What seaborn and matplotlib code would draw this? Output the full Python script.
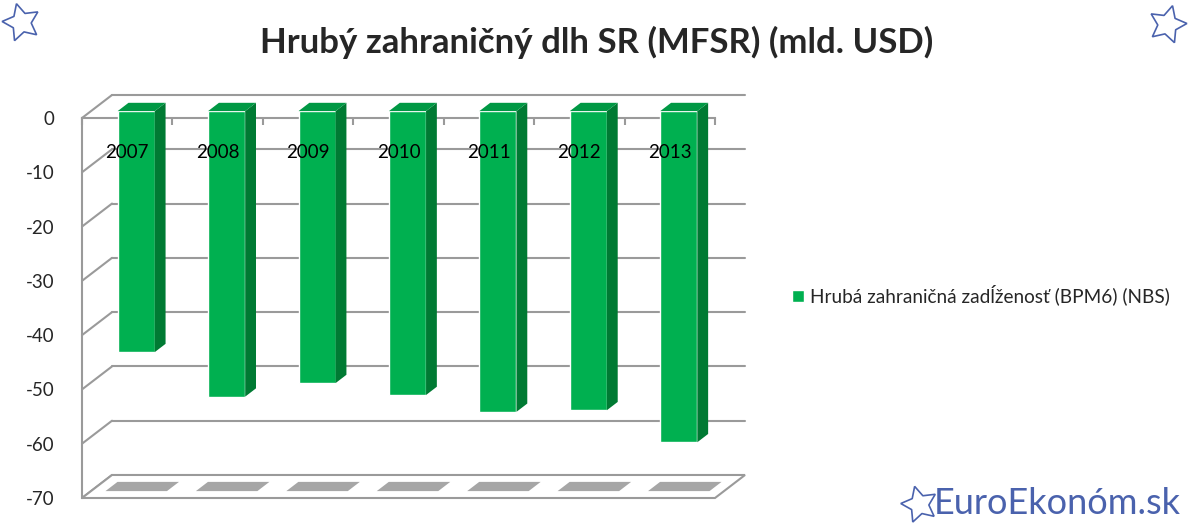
import numpy as np
import matplotlib
matplotlib.use('Agg')
import matplotlib.pyplot as plt
import seaborn as sns
from matplotlib.patches import Polygon

years = ['2007', '2008', '2009', '2010', '2011', '2012', '2013']
debt = [-44.4, -52.6, -50.1, -52.3, -55.4, -55.1, -61.0]
y_ticks = [0, -10, -20, -30, -40, -50, -60, -70]
title = 'Hrubý zahraničný dlh SR (MFSR) (mld. USD)'
series_name = 'Hrubá zahraničná zadĺženosť (BPM6) (NBS)'

sns.set_style('white')
plt.rcParams['font.family'] = ['Lato', 'DejaVu Sans']

W, H = 1193, 527
fig = plt.figure(figsize=(W / 100, H / 100), dpi=100)
ax = fig.add_axes([82 / W, (H - 498) / H, (715 - 82) / W, 380 / H])

front = '#00b050'
side = '#007a33'
top = '#009844'
grid = '#9a9a9a'

# depth of the fake 3d box in data units
dx, dy = 0.332, 4.24
bar_d0, bar_d1 = 0.30, 0.66

ax.set_xlim(-0.5, 6.5)
ax.set_ylim(-70, 0)

# back wall + left wall grid
for v in y_ticks:
    ax.plot([-0.5, -0.5 + dx], [v, v + dy], color=grid, lw=1.5, clip_on=False, zorder=1)
    if v != -70:
        ax.plot([-0.5 + dx, 6.5 + dx], [v + dy, v + dy], color=grid, lw=1.5, clip_on=False, zorder=1)

# floor
floor = Polygon([(-0.5, -70), (6.5, -70), (6.5 + dx, -70 + dy), (-0.5 + dx, -70 + dy)],
                closed=True, facecolor='white', edgecolor=grid, lw=1.5, clip_on=False, zorder=1)
ax.add_patch(floor)

sns.barplot(x=years, y=debt, color=front, saturation=1, width=0.41, ax=ax,
            label=series_name, zorder=3)
ax.set_xlim(-0.5, 6.5)
ax.set_ylim(-70, 0)

for i, p in enumerate(ax.patches[1:]):
    p.set_x(p.get_x() + bar_d0 * dx)
    p.set_y(bar_d0 * dy)
    p.set_clip_on(False)
    x0, x1 = p.get_x(), p.get_x() + p.get_width()
    y0 = p.get_y()
    y1 = y0 + p.get_height()
    d = bar_d1 - bar_d0
    ax.add_patch(Polygon([(x1, y0), (x1 + d * dx, y0 + d * dy), (x1 + d * dx, y1 + d * dy), (x1, y1)],
                         closed=True, facecolor=side, edgecolor='none', clip_on=False, zorder=3))
    ax.add_patch(Polygon([(x0, y0), (x1, y0), (x1 + d * dx, y0 + d * dy), (x0 + d * dx, y0 + d * dy)],
                         closed=True, facecolor=top, edgecolor='none', clip_on=False, zorder=3))
    # shadow on the floor
    cx = i
    s0, s1 = 0.3, 0.7
    ax.add_patch(Polygon([(cx - 0.34 + s0 * dx, -70 + s0 * dy), (cx + 0.34 + s0 * dx, -70 + s0 * dy),
                          (cx + 0.34 + s1 * dx, -70 + s1 * dy), (cx - 0.34 + s1 * dx, -70 + s1 * dy)],
                         closed=True, facecolor='#a6a6a6', edgecolor='none', clip_on=False, zorder=2))

# year labels
for i, y in enumerate(years):
    ax.text(i, -6.3, y, ha='center', va='center', fontsize=13.5, color='black', zorder=5)

# axes styling
for s in ['bottom', 'right']:
    ax.spines[s].set_visible(False)
ax.spines['left'].set_color(grid)
ax.spines['left'].set_linewidth(1.5)
ax.spines['top'].set_color(grid)
ax.spines['top'].set_linewidth(1.5)
ax.xaxis.set_ticks_position('top')
ax.set_xticks(np.arange(-0.5, 7, 1))
ax.set_xticklabels([])
ax.tick_params(axis='x', direction='in', length=5, color=grid, width=1.5)
ax.set_yticks(y_ticks)
ax.set_yticklabels([str(v) for v in y_ticks])
ax.tick_params(axis='y', direction='out', length=4, color=grid, width=1.5, labelsize=13.5, pad=16)
ax.set_xlabel('')
ax.set_ylabel('')
ax.patch.set_alpha(0)

ax.legend(loc='center left', bbox_to_anchor=(775 / W, 1 - 295 / H), bbox_transform=fig.transFigure,
          frameon=False, fontsize=13.7, handlelength=0.6, handleheight=0.6, handletextpad=0.35)

fig.text(0.5, 1 - 42 / H, title, ha='center', va='center', fontsize=25, fontweight='bold')

# decoration overlay: stars and watermark
ov = fig.add_axes([0, 0, 1, 1], zorder=10)
ov.set_xlim(0, W)
ov.set_ylim(H, 0)
ov.axis('off')
ov.patch.set_alpha(0)
blue = '#4a62ad'
ov.plot([21], [22], marker=(5, 1, 15), markersize=28, markerfacecolor='none', markeredgecolor=blue, markeredgewidth=1.2)
ov.plot([1167], [24], marker=(5, 1, -15), markersize=28, markerfacecolor='none', markeredgecolor=blue, markeredgewidth=1.2)
ov.plot([919], [504], marker=(5, 1, 15), markersize=27, markerfacecolor='none', markeredgecolor=blue, markeredgewidth=1.2)
ov.text(934, 503, 'EuroEkonóm.sk', ha='left', va='center', fontsize=26, color=blue)

fig.savefig('out.png', dpi=100)
